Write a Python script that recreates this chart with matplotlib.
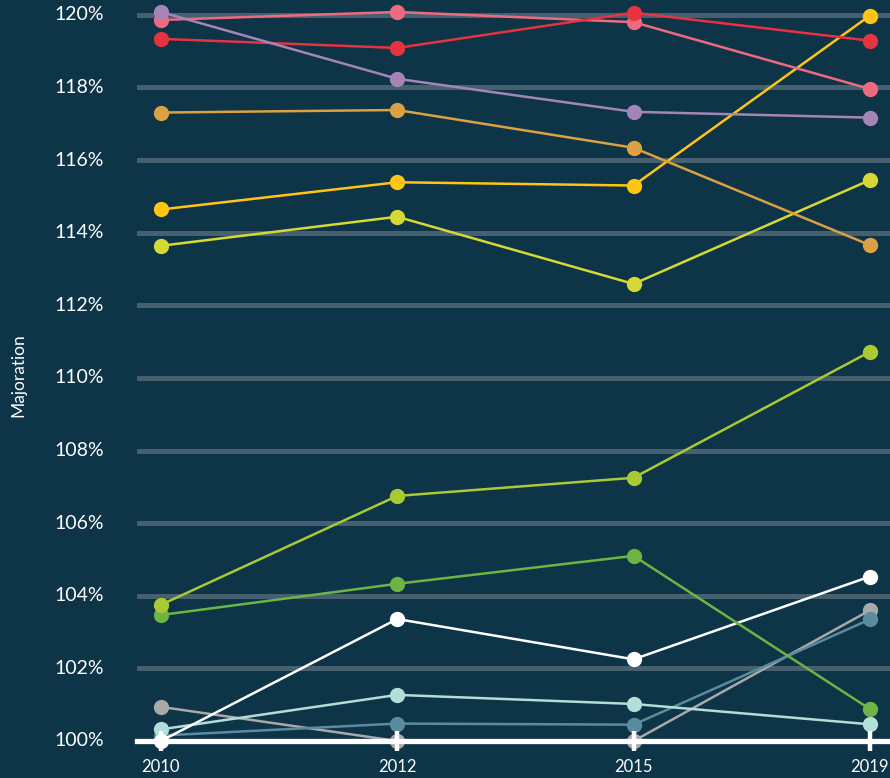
import matplotlib
matplotlib.use("Agg")
import matplotlib.pyplot as plt

years = ["2010", "2012", "2015", "2019"]
y_ticks = [100, 102, 104, 106, 108, 110, 112, 114, 116, 118, 120]
y_tick_labels = [f"{v}%" for v in y_ticks]

gray_vals = [100.94, 100.0, 100.0, 103.6]
steel_vals = [100.15, 100.48, 100.45, 103.35]
teal_vals = [100.32, 101.27, 101.02, 100.46]
white_vals = [100.0, 103.36, 102.25, 104.53]
green_vals = [103.47, 104.33, 105.1, 100.88]
lime_vals = [103.75, 106.75, 107.25, 110.72]
yellowlime_vals = [113.64, 114.44, 112.59, 115.45]
gold_vals = [114.64, 115.39, 115.3, 119.98]
orange_vals = [117.31, 117.38, 116.34, 113.66]
pink_vals = [119.86, 120.08, 119.8, 117.96]
red_vals = [119.34, 119.09, 120.06, 119.29]
purple_vals = [120.08, 118.24, 117.33, 117.17]

series = [
    (gray_vals, "#a9a9a9"),
    (steel_vals, "#5b8b9f"),
    (teal_vals, "#b3ddd8"),
    (white_vals, "#ffffff"),
    (green_vals, "#6cb544"),
    (lime_vals, "#a9c935"),
    (yellowlime_vals, "#d6d935"),
    (gold_vals, "#ffc515"),
    (orange_vals, "#dba142"),
    (pink_vals, "#ee6a7f"),
    (red_vals, "#e63340"),
    (purple_vals, "#a585b8"),
]

BG = "#0e3448"
GRID = "#47606f"
plt.rcParams["font.family"] = ["Lato", "DejaVu Sans"]

fig = plt.figure(figsize=(8.9, 7.78), dpi=100, facecolor=BG)
ax = fig.add_axes([137 / 890, 37 / 778, 1 - 137 / 890, 741 / 778])
ax.set_facecolor(BG)

x = list(range(len(years)))
ax.set_xlim(-0.101, 3.085)
ax.set_ylim(100, 120.41)

for v in y_ticks[1:]:
    ax.axhline(v, color=GRID, lw=3.6, solid_capstyle="round", zorder=1)

for vals, col in series:
    ax.plot(x, vals, color=col, lw=1.8, marker="o", markersize=11,
            markeredgewidth=0, clip_on=False, zorder=3)

ax.axhline(100, color="white", lw=3.8, zorder=6, clip_on=False)

for s in ax.spines.values():
    s.set_visible(False)

ax.set_xticks(x)
ax.set_xticklabels(years)
ax.tick_params(axis="x", direction="inout", length=14, width=3.2,
               color="white", labelcolor="white", labelsize=12, pad=6)
ax.xaxis.set_zorder(7)
ax.set_yticks(y_ticks)
ax.set_yticklabels(y_tick_labels)
ax.tick_params(axis="y", length=0, labelcolor="white", labelsize=14, pad=24)
for lab in ax.get_yticklabels():
    lab.set_verticalalignment("center")

fig.text(18 / 890, 1 - 375 / 778, "Majoration", rotation=90, color="white",
         fontsize=12.5, ha="center", va="center")

fig.savefig("out.png", dpi=100, facecolor=BG)
